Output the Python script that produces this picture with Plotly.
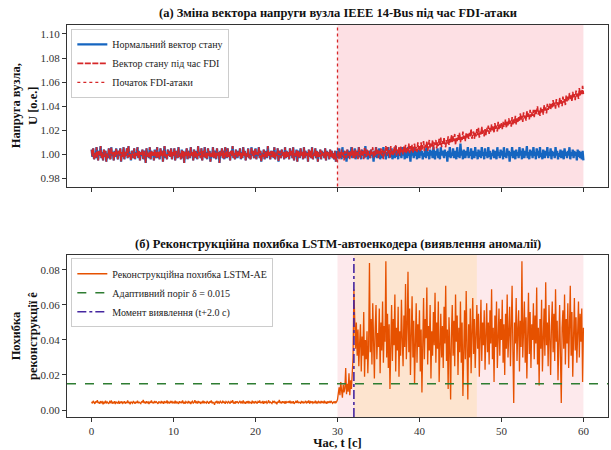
import numpy as np
import plotly.graph_objects as go

# ---------------- data (0.1 s sampling over 0..60 s) ----------------
# Bus voltage, deviation from 1.000 p.u. in units of 0.001 p.u. (milli-p.u.)
u_normal_dev = [
    4, -2, 5, -4, 1, -3, 6, 0, -5, 3, -1, 7, -3, 2, -5, 4, -2, 3, -6, 1,
    -3, 5, 0, -4, 6, -1, 2, -5, 3, -2, 5, 1, -4, 3, -1, 5, -6, 2, -2, 6,
    -4, 2, -1, 5, -3, 7, -2, 1, -5, 3, 0, -3, 5, -4, 2, -1, 6, -3, 3, -5,
    2, -1, 4, -4, 3, 0, -7, 5, -2, 1, -3, 6, -4, 3, -1, 2, -5, 4, 0, -3,
    6, -3, 2, -4, 5, -1, 3, -6, 1, 7, -3, 0, -4, 4, -1, 3, -2, 5, -4, 2,
    -1, 5, -5, 3, 0, -3, 6, -2, 1, -4, 4, -3, 3, -7, 2, -1, 5, -4, 3, 0,
    -3, 6, -1, 2, -5, 4, -3, 3, 0, -4, 7, -1, 2, -3, 5, -5, 3, -2, 6, -3,
    2, -4, 5, -1, 3, -6, 1, -2, 6, -3, 3, 0, -4, 5, -1, 2, -7, 3, -1, 5,
    -3, 3, -4, 6, 0, -3, 5, -2, 2, -5, 3, -1, 7, -3, 1, -4, 4, 0, -3, 3,
    -1, 5, -4, 2, -3, 6, -1, 3, -5, 1, -2, 5, -3, 0, -4, 6, -1, 3, -3, 2,
    5, -4, 2, -1, 6, -3, 3, -6, 1, -2, 4, -4, 3, 0, -3, 7, -1, 2, -4, 3,
    -2, 3, -3, 6, -4, 1, -1, 5, -6, 3, 0, -3, 4, -1, 2, -4, 6, -3, 3, -2,
    2, -4, 5, -1, 3, -3, 6, -5, 1, -2, 4, -6, 3, 0, -3, 5, -1, 2, -4, 6,
    -3, 3, -1, 2, -6, 4, -2, 3, -3, 6, -4, 1, -1, 5, -3, 3, -6, 2, -2, 4,
    -4, 3, -1, 2, -3, 5, -5, 3, -1, 2, -4, 4, -2, 3, -3, 1, -4, 3, -6, -2,
    3, -3, 5, -1, 2, -4, 6, -2, 3, -3, 1, -6, 4, 0, -3, 3, -1, 6, -3, 2,
    -1, 5, -4, 3, 0, -3, 6, -2, 1, -4, 4, -1, 3, -3, 7, -2, 1, -4, 3, 0,
    -3, 4, -1, 2, -6, 3, -2, 6, -3, 1, -1, 5, -4, 3, 0, -3, 6, -1, 3, -4,
    2, -1, 6, -3, 3, -2, 5, -4, 1, 0, -3, 7, -2, 3, -4, 4, -1, 2, -3, 6,
    -1, 3, -4, 5, 0, -3, 6, -1, 2, -6, 4, -1, 3, -3, 6, -1, 2, -4, 4, 0,
    -3, 6, -1, 3, -4, 1, -2, 5, -3, 7, -1, 2, -4, 4, -1, 3, -3, 6, 0, -4,
    3, -1, 5, -3, 2, -4, 6, -1, 3, 0, -3, 4, -1, 2, -6, 3, -2, 6, -3, 1,
    -1, 5, -3, 3, 0, -4, 6, -2, 1, -3, 9, -1, 3, -4, 4, 0, -3, 3, -1, 6,
    -3, 2, -1, 5, -4, 3, 0, -3, 6, -1, 2, -4, 4, -2, 3, -3, 6, -1, 2, -4,
    5, -1, 2, -3, 6, -2, 3, -4, 1, -1, 4, -3, 3, 0, -4, 6, -1, 2, -3, 4,
    -1, 3, -4, 6, -2, 1, -3, 5, -1, 3, -6, 2, -1, 6, -3, 3, 0, -4, 4, -1,
    2, -3, 6, -1, 3, -4, 5, 0, -3, 3, -1, 7, -3, 2, -4, 4, -1, 3, -3, 6,
    -1, 2, -4, 5, -1, 3, -3, 6, -2, 1, -4, 4, 0, -3, 3, -1, 6, -3, 2, -1,
    5, -4, 3, -1, 2, -3, 6, -1, 3, -4, 1, -2, 4, -3, 3, 0, -4, 5, -1, 2,
    -3, 3, -1, 6, -4, 2, -1, 4, -3, 3, -1, 2, -5, 4, -2, 3, -3, 2, -4, 3,
    -5,
]

# Voltage under FDI attack (milli-p.u.) after the attack starts (t = 30.0 .. 60.0 s);
# before the attack the FDI trace coincides with the normal state vector.
u_fdi_attack_dev = [
    -1, 3, -4, 2, -3, 4, -1, 2, -5, 3, 0, -3, 4, -1, 2, -4, 3, -1, 6, -3,
    3, -3, 4, -1, 2, -4, 6, 0, -3, 4, -1, 3, -4, 6, 0, -2, 4, -1, 3, 0,
    -3, 4, 0, 6, -3, 3, -1, 6, 0, 4, -3, 3, 0, 5, -1, 4, -4, 3, 1, 7,
    -1, 6, 1, 4, -3, 7, 0, 3, -1, 6, 1, 8, -1, 4, 1, 6, -1, 7, 2, 4,
    0, 7, 2, 8, 1, 5, 2, 9, 1, 7, 3, 8, 1, 5, 9, 3, 6, 2, 10, 4,
    7, 2, 10, 4, 7, 11, 3, 8, 5, 11, 3, 8, 12, 5, 9, 6, 12, 4, 10, 8,
    12, 5, 10, 7, 13, 8, 14, 6, 11, 8, 14, 9, 6, 12, 9, 15, 8, 13, 10, 16,
    10, 15, 11, 17, 8, 14, 11, 16, 12, 18, 10, 15, 12, 19, 13, 16, 11, 18, 14, 17,
    13, 18, 15, 21, 13, 17, 19, 13, 18, 15, 21, 16, 22, 14, 19, 16, 23, 17, 20, 15,
    21, 16, 22, 19, 24, 17, 22, 19, 25, 20, 23, 18, 26, 21, 24, 19, 27, 21, 25, 22,
    26, 21, 27, 23, 25, 29, 22, 27, 24, 30, 25, 28, 23, 31, 25, 29, 26, 32, 25, 30,
    27, 31, 28, 34, 29, 32, 27, 35, 30, 33, 28, 36, 31, 34, 29, 37, 31, 35, 32, 37,
    31, 37, 33, 36, 40, 33, 37, 32, 39, 35, 38, 33, 41, 36, 39, 34, 42, 37, 40, 42,
    37, 42, 39, 45, 40, 43, 38, 46, 41, 44, 39, 47, 42, 45, 40, 48, 43, 46, 41, 49,
    44, 48, 45, 51, 46, 49, 44, 52, 47, 50, 45, 53, 48, 51, 46, 55, 49, 53, 50, 57,
    50,
]

recon_error = [
    0.0047, 0.0038, 0.0052, 0.0041, 0.0035, 0.0049, 0.0043, 0.0056, 0.0039, 0.0044, 0.0036, 0.0051, 0.0042, 0.0047, 0.0033, 0.0045, 0.0040, 0.0053, 0.0038, 0.0046,
    0.0041, 0.0035, 0.0048, 0.0043, 0.0055, 0.0037, 0.0044, 0.0040, 0.0050, 0.0034, 0.0046, 0.0042, 0.0039, 0.0052, 0.0036, 0.0045, 0.0041, 0.0049, 0.0038, 0.0043,
    0.0050, 0.0037, 0.0044, 0.0041, 0.0054, 0.0039, 0.0046, 0.0033, 0.0048, 0.0042, 0.0038, 0.0051, 0.0044, 0.0036, 0.0047, 0.0040, 0.0053, 0.0039, 0.0045, 0.0042,
    0.0036, 0.0049, 0.0043, 0.0057, 0.0040, 0.0045, 0.0037, 0.0050, 0.0042, 0.0046, 0.0034, 0.0048, 0.0041, 0.0055, 0.0039, 0.0044, 0.0038, 0.0051, 0.0043, 0.0047,
    0.0040, 0.0035, 0.0049, 0.0044, 0.0038, 0.0052, 0.0041, 0.0046, 0.0036, 0.0050, 0.0043, 0.0039, 0.0054, 0.0040, 0.0045, 0.0037, 0.0048, 0.0042, 0.0051, 0.0038,
    0.0045, 0.0041, 0.0053, 0.0037, 0.0048, 0.0043, 0.0035, 0.0050, 0.0042, 0.0046, 0.0039, 0.0055, 0.0040, 0.0044, 0.0036, 0.0049, 0.0043, 0.0038, 0.0052, 0.0041,
    0.0047, 0.0034, 0.0045, 0.0050, 0.0039, 0.0043, 0.0056, 0.0040, 0.0046, 0.0037, 0.0051, 0.0042, 0.0048, 0.0035, 0.0044, 0.0041, 0.0053, 0.0038, 0.0047, 0.0042,
    0.0039, 0.0051, 0.0044, 0.0036, 0.0049, 0.0042, 0.0055, 0.0038, 0.0045, 0.0041, 0.0030, 0.0048, 0.0043, 0.0052, 0.0037, 0.0046, 0.0040, 0.0050, 0.0044, 0.0038,
    0.0053, 0.0041, 0.0047, 0.0035, 0.0049, 0.0043, 0.0039, 0.0051, 0.0045, 0.0037, 0.0048, 0.0042, 0.0056, 0.0040, 0.0044, 0.0036, 0.0050, 0.0043, 0.0047, 0.0039,
    0.0045, 0.0052, 0.0038, 0.0046, 0.0041, 0.0055, 0.0040, 0.0044, 0.0036, 0.0049, 0.0043, 0.0051, 0.0037, 0.0047, 0.0042, 0.0039, 0.0053, 0.0041, 0.0046, 0.0038,
    0.0050, 0.0043, 0.0037, 0.0048, 0.0042, 0.0054, 0.0039, 0.0045, 0.0041, 0.0052, 0.0036, 0.0047, 0.0043, 0.0049, 0.0038, 0.0044, 0.0055, 0.0040, 0.0046, 0.0042,
    0.0037, 0.0049, 0.0044, 0.0052, 0.0039, 0.0046, 0.0033, 0.0048, 0.0042, 0.0057, 0.0040, 0.0045, 0.0038, 0.0050, 0.0043, 0.0047, 0.0036, 0.0051, 0.0041, 0.0045,
    0.0048, 0.0040, 0.0053, 0.0038, 0.0046, 0.0042, 0.0050, 0.0035, 0.0044, 0.0049, 0.0041, 0.0054, 0.0039, 0.0045, 0.0043, 0.0037, 0.0051, 0.0042, 0.0047, 0.0040,
    0.0044, 0.0052, 0.0038, 0.0047, 0.0041, 0.0055, 0.0036, 0.0048, 0.0043, 0.0050, 0.0039, 0.0045, 0.0042, 0.0053, 0.0037, 0.0046, 0.0040, 0.0049, 0.0044, 0.0038,
    0.0051, 0.0042, 0.0047, 0.0039, 0.0053, 0.0041, 0.0045, 0.0036, 0.0049, 0.0043, 0.0048, 0.0040, 0.0052, 0.0044, 0.0038, 0.0046, 0.0042, 0.0050, 0.0041, 0.0047,
    0.0060, 0.0095, 0.0130, 0.0085, 0.0160, 0.0110, 0.0070, 0.0145, 0.0100, 0.0125, 0.0240, 0.0090, 0.0150, 0.0105, 0.0210, 0.0085, 0.0170, 0.0120, 0.0260, 0.0300,
    0.069, 0.048, 0.035, 0.050, 0.031, 0.046, 0.025, 0.038, 0.049, 0.022, 0.042, 0.031, 0.056, 0.019, 0.040, 0.029, 0.045, 0.021, 0.037, 0.084,
    0.033, 0.052, 0.026, 0.061, 0.040, 0.018, 0.047, 0.060, 0.029, 0.044, 0.036, 0.058, 0.021, 0.050, 0.034, 0.062, 0.027, 0.048, 0.039, 0.085,
    0.030, 0.055, 0.024, 0.049, 0.012, 0.043, 0.060, 0.028, 0.052, 0.037, 0.066, 0.022, 0.047, 0.034, 0.059, 0.019, 0.045, 0.031, 0.063, 0.040,
    0.025, 0.054, 0.036, 0.072, 0.029, 0.047, 0.079, 0.033, 0.058, 0.020, 0.044, 0.065, 0.030, 0.051, 0.015, 0.042, 0.061, 0.027, 0.049, 0.036,
    0.057, 0.022, 0.046, 0.010, 0.038, 0.064, 0.029, 0.052, 0.041, 0.070, 0.026, 0.048, 0.034, 0.060, 0.018, 0.045, 0.031, 0.056, 0.037, 0.067,
    0.027, 0.050, 0.035, 0.062, 0.016, 0.044, 0.055, 0.030, 0.048, 0.024, 0.059, 0.038, 0.071, 0.028, 0.046, 0.012, 0.053, 0.035, 0.006, 0.044,
    0.060, 0.031, 0.051, 0.025, 0.066, 0.039, 0.054, 0.020, 0.047, 0.033, 0.062, 0.027, 0.050, 0.008, 0.043, 0.057, 0.029, 0.068, 0.036, 0.006,
    0.049, 0.030, 0.058, 0.021, 0.044, 0.064, 0.032, 0.052, 0.024, 0.046, 0.060, 0.035, 0.055, 0.019, 0.041, 0.063, 0.028, 0.050, 0.037, 0.057,
    0.023, 0.045, 0.061, 0.033, 0.050, 0.026, 0.057, 0.038, 0.069, 0.029, 0.047, 0.016, 0.054, 0.036, 0.062, 0.024, 0.044, 0.058, 0.031, 0.052,
    0.040, 0.063, 0.027, 0.049, 0.020, 0.055, 0.035, 0.066, 0.030, 0.048, 0.059, 0.025, 0.044, 0.071, 0.033, 0.004, 0.050, 0.038, 0.064, 0.028,
    0.046, 0.057, 0.022, 0.051, 0.036, 0.085, 0.030, 0.048, 0.062, 0.027, 0.053, 0.018, 0.045, 0.067, 0.032, 0.056, 0.024, 0.049, 0.040, 0.061,
    0.029, 0.054, 0.038, 0.070, 0.026, 0.047, 0.014, 0.052, 0.035, 0.063, 0.022, 0.046, 0.058, 0.031, 0.073, 0.037, 0.050, 0.025, 0.060, 0.041,
    0.020, 0.048, 0.062, 0.033, 0.055, 0.028, 0.069, 0.039, 0.051, 0.017, 0.044, 0.060, 0.030, 0.004, 0.047, 0.057, 0.035, 0.066, 0.026, 0.052,
    0.038, 0.061, 0.024, 0.049, 0.071, 0.031, 0.056, 0.019, 0.045, 0.064, 0.034, 0.053, 0.027, 0.048, 0.062, 0.030, 0.055, 0.039, 0.058, 0.016,
    0.047,
]

u_nominal = 1.0              # p.u.
t_start, t_end = 0.0, 60.0   # simulated time window, s
attack_start = 30.0          # FDI attack start, s
detect_time = 32.0           # detection moment (t+2.0 s)
anomaly_end = 47.0           # end of highlighted anomaly window, s
threshold = 0.015            # adaptive threshold δ

x_ticks = [0, 10, 20, 30, 40, 50, 60]

# ---------------- assemble series ----------------
t_normal = np.linspace(t_start, t_end, len(u_normal_dev))
n_pre = int(np.sum(t_normal < attack_start - 1e-9))
u_fdi_dev = list(u_normal_dev[:n_pre]) + list(u_fdi_attack_dev)

u_normal = u_nominal + np.asarray(u_normal_dev) / 1000.0
u_fdi = u_nominal + np.asarray(u_fdi_dev) / 1000.0


def time_axis(series):
    return np.linspace(t_start, t_end, len(series))


# ---------------- styling ----------------
SERIF = "Liberation Serif, Times New Roman, serif"
C_BLUE = "#1565c0"
C_RED = "#d62728"
C_ORANGE = "#e65100"
C_GREEN = "#2e7d32"
C_PURPLE = "#4527a0"
C_AX = "#333333"

fig = go.Figure()

fig.add_trace(go.Scatter(
    x=time_axis(u_normal), y=u_normal, mode="lines", name="Нормальний вектор стану",
    line=dict(color=C_BLUE, width=2.3), xaxis="x", yaxis="y", legend="legend"))
fig.add_trace(go.Scatter(
    x=time_axis(u_fdi), y=u_fdi, mode="lines", name="Вектор стану під час FDI",
    line=dict(color=C_RED, width=1.6, dash="6px,1.5px"), xaxis="x", yaxis="y", legend="legend"))
fig.add_trace(go.Scatter(
    x=[None], y=[None], mode="lines", name="Початок FDI-атаки",
    line=dict(color=C_RED, width=1.3, dash="dot"), xaxis="x", yaxis="y", legend="legend"))

fig.add_trace(go.Scatter(
    x=time_axis(recon_error), y=recon_error, mode="lines", name="Реконструкційна похибка LSTM-AE",
    line=dict(color=C_ORANGE, width=1.3), xaxis="x2", yaxis="y2", legend="legend2"))
fig.add_trace(go.Scatter(
    x=[None], y=[None], mode="lines", name=f"Адаптивний поріг δ = {threshold}",
    line=dict(color=C_GREEN, width=1.6, dash="dash"), xaxis="x2", yaxis="y2", legend="legend2"))
fig.add_trace(go.Scatter(
    x=[None], y=[None], mode="lines", name=f"Момент виявлення (t+{detect_time - attack_start:.1f} с)",
    line=dict(color=C_PURPLE, width=1.6, dash="dashdot"), xaxis="x2", yaxis="y2", legend="legend2"))

shapes = [
    # top panel: attack window
    dict(type="rect", xref="x", yref="y domain", x0=attack_start, x1=t_end, y0=0, y1=1,
         fillcolor="#fde0e4", line=dict(width=0), layer="below"),
    dict(type="line", xref="x", yref="y domain", x0=attack_start, x1=attack_start, y0=0, y1=1,
         line=dict(color=C_RED, width=1.3, dash="dot")),
    # bottom panel
    dict(type="rect", xref="x2", yref="y2 domain", x0=attack_start, x1=t_end, y0=0, y1=1,
         fillcolor="#fde9ec", line=dict(width=0), layer="below"),
    dict(type="rect", xref="x2", yref="y2 domain", x0=detect_time, x1=anomaly_end, y0=0, y1=1,
         fillcolor="#fde4cf", line=dict(width=0), layer="below"),
    dict(type="line", xref="x2 domain", yref="y2", x0=0, x1=1, y0=threshold, y1=threshold,
         line=dict(color=C_GREEN, width=1.6, dash="dash")),
    dict(type="line", xref="x2", yref="y2 domain", x0=detect_time, x1=detect_time, y0=0, y1=1,
         line=dict(color=C_PURPLE, width=1.6, dash="dashdot")),
]

axis_common = dict(
    showgrid=False, zeroline=False, showline=True, mirror=True, linecolor=C_AX, linewidth=1,
    ticks="outside", ticklen=4, tickcolor=C_AX, tickwidth=1,
    tickfont=dict(family=SERIF, size=11, color=C_AX),
)

title_font = dict(family=SERIF, size=12.5, color="#111111")
axis_title_font = dict(family=SERIF, size=12.5, color="#111111")
legend_font = dict(family=SERIF, size=10, color="#222222")

fig.update_layout(
    width=611, height=450,
    margin=dict(l=67, r=2, t=25, b=29),
    paper_bgcolor="white", plot_bgcolor="white",
    shapes=shapes,
    xaxis=dict(axis_common, domain=[0, 1], range=[-3, 63], tickvals=x_ticks, showticklabels=False,
               anchor="y"),
    yaxis=dict(axis_common, domain=[0.588, 1], range=[0.9734, 1.1074], dtick=0.02, tickformat=".2f",
               anchor="x",
               title=dict(text="<b>Напруга вузла,<br>U [о.е.]</b>", font=axis_title_font, standoff=0)),
    xaxis2=dict(axis_common, domain=[0, 1], range=[-3, 63], tickvals=x_ticks, anchor="y2",
                title=dict(text="<b>Час, t [с]</b>", font=axis_title_font, standoff=2)),
    yaxis2=dict(axis_common, domain=[0, 0.413], range=[-0.0040, 0.0885], dtick=0.02, tickformat=".2f",
                anchor="x2",
                title=dict(text="<b>Похибка<br>реконструкції ê</b>", font=axis_title_font, standoff=0)),
    legend=dict(x=0.008, y=0.99, xanchor="left", yanchor="top", bgcolor="white",
                bordercolor="#cccccc", borderwidth=1, font=legend_font,
                tracegroupgap=0, itemwidth=30),
    legend2=dict(x=0.008, y=0.405, xanchor="left", yanchor="top", bgcolor="white",
                 bordercolor="#cccccc", borderwidth=1, font=legend_font,
                 tracegroupgap=0, itemwidth=30),
    annotations=[
        dict(text="<b>(а) Зміна вектора напруги вузла IEEE 14-Bus під час FDI-атаки</b>",
             xref="paper", yref="paper", x=0.5, y=1.007, xanchor="center", yanchor="bottom",
             showarrow=False, font=title_font),
        dict(text="<b>(б) Реконструкційна похибка LSTM-автоенкодера (виявлення аномалії)</b>",
             xref="paper", yref="paper", x=0.5, y=0.418, xanchor="center", yanchor="bottom",
             showarrow=False, font=title_font),
    ],
    showlegend=True,
)

fig.write_html("out.html")
